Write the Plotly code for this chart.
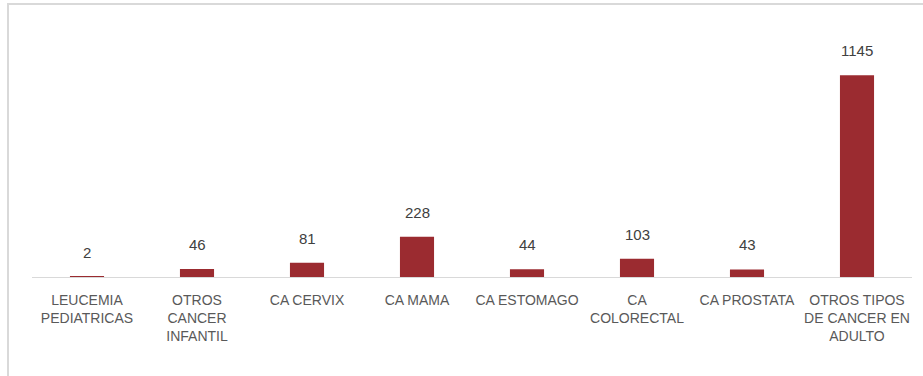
import plotly.graph_objects as go

categories = ["LEUCEMIA<br>PEDIATRICAS", "OTROS<br>CANCER<br>INFANTIL", "CA CERVIX", "CA MAMA",
              "CA ESTOMAGO", "CA<br>COLORECTAL", "CA PROSTATA", "OTROS TIPOS<br>DE CANCER EN<br>ADULTO"]
values = [2, 46, 81, 228, 44, 103, 43, 1145]
value_labels = [str(v) for v in values]

fig = go.Figure(go.Bar(
    x=categories, y=values,
    marker=dict(color="#9B2B30", line=dict(width=0)),
    cliponaxis=False,
))

for c, v, t in zip(categories, values, value_labels):
    fig.add_annotation(x=c, y=v, text=t, showarrow=False, yanchor="bottom", yshift=14,
                       font=dict(family="Liberation Sans", size=15, color="#404040"))

fig.update_layout(
    width=923, height=376,
    margin=dict(l=32, r=11, t=20, b=99),
    paper_bgcolor="white", plot_bgcolor="white",
    bargap=0.69,
    showlegend=False,
    xaxis=dict(showline=True, linecolor="#d9d9d9", linewidth=1, ticks="",
               ticklabelstandoff=10,
               tickfont=dict(family="Liberation Sans Narrow, Liberation Sans", size=14, color="#595959"),
               tickangle=0),
    yaxis=dict(visible=False, range=[0, 1459], showgrid=False),
    shapes=[dict(type="rect", xref="paper", yref="paper", x0=-24/880, x1=1 + 20/880,
                 y0=-1 - 10/257, y1=1 + 16/257, line=dict(color="#d9d9d9", width=2), fillcolor="rgba(0,0,0,0)", layer="below")],
)

fig.write_html("out.html")
